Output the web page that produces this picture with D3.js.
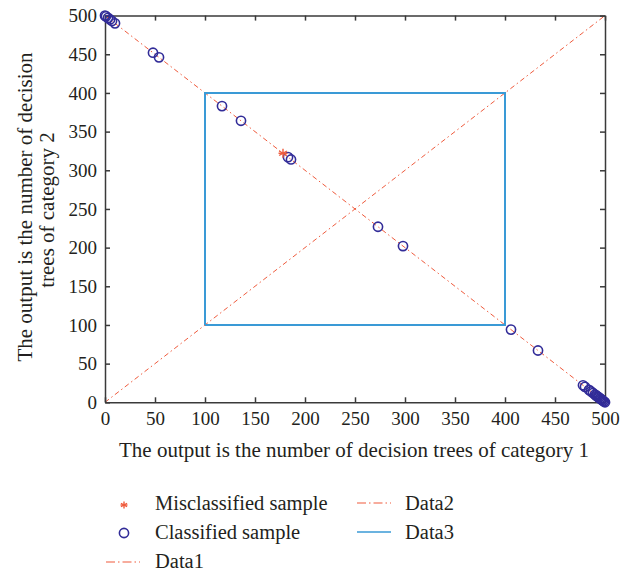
<!DOCTYPE html>
<html>
<head>
<meta charset="utf-8">
<script src="https://cdn.jsdelivr.net/npm/d3@7"></script>
<style>
  html, body { margin: 0; padding: 0; background: #fff; }
  svg text { font-family: "Liberation Serif", "DejaVu Serif", serif; fill: #231f20; }
</style>
</head>
<body>
<svg id="chart" width="622" height="573"></svg>
<script>
// Tree-vote outputs of each sample: category 1 (x) and category 2 (y)
const classifiedX = [0, 1, 3, 5, 7, 10, 48, 54, 117, 136, 183, 186, 273, 298, 406, 433,
  478, 480, 484, 486, 488, 490, 491, 492, 493, 494, 495, 496, 497, 498, 499, 500];
const classifiedY = [500, 499, 497, 495, 493, 490, 452, 446, 383, 364, 317, 314, 227, 202, 94, 67,
  22, 20, 16, 14, 12, 10, 9, 8, 7, 6, 5, 4, 3, 2, 1, 0];
const misclassifiedX = [178];
const misclassifiedY = [322];

// Reference lines and the decision box
const data1X = [0, 500], data1Y = [0, 500];
const data2X = [0, 500], data2Y = [500, 0];
const data3X = [100, 400, 400, 100, 100], data3Y = [100, 100, 400, 400, 100];

const xTicks = [0, 50, 100, 150, 200, 250, 300, 350, 400, 450, 500];
const yTicks = [0, 50, 100, 150, 200, 250, 300, 350, 400, 450, 500];

const legendLabels = ["Misclassified sample", "Classified sample", "Data1", "Data2", "Data3"];

const red = "#ef5b3d", blue = "#3a9ad6", navy = "#322c98", axisCol = "#3a3a3a";

const svg = d3.select("#chart");
const L = 105, R = 605, T = 15.6, B = 402.3;
const x = d3.scaleLinear().domain([0, 500]).range([L, R]);
const y = d3.scaleLinear().domain([0, 500]).range([B, T]);

const line = d3.line();
const pts = (xs, ys) => xs.map((v, i) => [x(v), y(ys[i])]);

// reference diagonals
[[data1X, data1Y], [data2X, data2Y]].forEach(([xs, ys]) => {
  svg.append("path").attr("d", line(pts(xs, ys)))
    .attr("fill", "none").attr("stroke", red).attr("stroke-width", 1)
    .attr("stroke-dasharray", "5,3,1.5,3");
});

// decision box
svg.append("path").attr("d", line(pts(data3X, data3Y)))
  .attr("fill", "none").attr("stroke", blue).attr("stroke-width", 2);

// axes frame with inward ticks on all four sides
const tickLen = 5;
const axB = d3.axisBottom(x).tickValues(xTicks).tickSizeInner(-tickLen).tickSizeOuter(0).tickPadding(9);
const axL = d3.axisLeft(y).tickValues(yTicks).tickSizeInner(-tickLen).tickSizeOuter(0).tickPadding(8);
const axT = d3.axisTop(x).tickValues(xTicks).tickSizeInner(-tickLen).tickSizeOuter(0).tickFormat("");
const axR = d3.axisRight(y).tickValues(yTicks).tickSizeInner(-tickLen).tickSizeOuter(0).tickFormat("");

function styleAxis(g) {
  g.attr("font-family", null).attr("font-size", null);
  g.selectAll("path, line").attr("stroke", axisCol).attr("stroke-width", 1.5);
  g.selectAll("text").attr("font-size", 19).attr("fill", "#231f20");
}
svg.append("g").attr("transform", `translate(0,${B})`).call(axB).call(styleAxis);
svg.append("g").attr("transform", `translate(${L},0)`).call(axL).call(styleAxis);
svg.append("g").attr("transform", `translate(0,${T})`).call(axT).call(styleAxis);
svg.append("g").attr("transform", `translate(${R},0)`).call(axR).call(styleAxis);

// classified samples
svg.append("g").selectAll("circle").data(classifiedX).join("circle")
  .attr("cx", (d) => x(d)).attr("cy", (d, i) => y(classifiedY[i]))
  .attr("r", 4.6).attr("fill", "none").attr("stroke", navy).attr("stroke-width", 1.6);

// asterisk marker
function star(g, cx, cy, s) {
  [0, 60, 120].forEach((deg) => {
    const r = deg * Math.PI / 180;
    g.append("line")
      .attr("x1", cx - s * Math.sin(r)).attr("y1", cy - s * Math.cos(r))
      .attr("x2", cx + s * Math.sin(r)).attr("y2", cy + s * Math.cos(r))
      .attr("stroke", red).attr("stroke-width", 1.4);
  });
  g.append("line").attr("x1", cx - s).attr("y1", cy).attr("x2", cx + s).attr("y2", cy)
    .attr("stroke", red).attr("stroke-width", 1.4);
}
const mis = svg.append("g");
misclassifiedX.forEach((v, i) => star(mis, x(v), y(misclassifiedY[i]), 4.5));

// axis titles
const titleFont = 21;
svg.append("text").attr("x", (L + R) / 2 - 1).attr("y", 457).attr("text-anchor", "middle")
  .attr("font-size", titleFont).text("The output is the number of decision trees of category 1");
const yt = svg.append("text").attr("transform", `translate(32,207) rotate(-90)`)
  .attr("text-anchor", "middle").attr("font-size", titleFont);
yt.append("tspan").attr("x", 0).attr("dy", 0).text("The output is the number of decision");
yt.append("tspan").attr("x", -3).attr("dy", 22).text("trees of category 2");

// legend
const lg = svg.append("g");
star(lg, 124, 505, 3.5);
lg.append("circle").attr("cx", 124).attr("cy", 533).attr("r", 4.6)
  .attr("fill", "none").attr("stroke", navy).attr("stroke-width", 1.6);
[[106, 140, 562], [357, 391, 503]].forEach(([a, b, yy]) => {
  lg.append("line").attr("x1", a).attr("x2", b).attr("y1", yy).attr("y2", yy)
    .attr("stroke", red).attr("stroke-width", 1.2).attr("stroke-dasharray", "9,3,1.5,3");
});
lg.append("line").attr("x1", 357).attr("x2", 391).attr("y1", 532).attr("y2", 532)
  .attr("stroke", blue).attr("stroke-width", 1.5);
const legPos = [[155, 510], [155, 539], [155, 568], [405, 510], [405, 539]];
legendLabels.forEach((t, i) => {
  lg.append("text").attr("x", legPos[i][0]).attr("y", legPos[i][1])
    .attr("font-size", 20.5).text(t);
});
</script>
</body>
</html>
